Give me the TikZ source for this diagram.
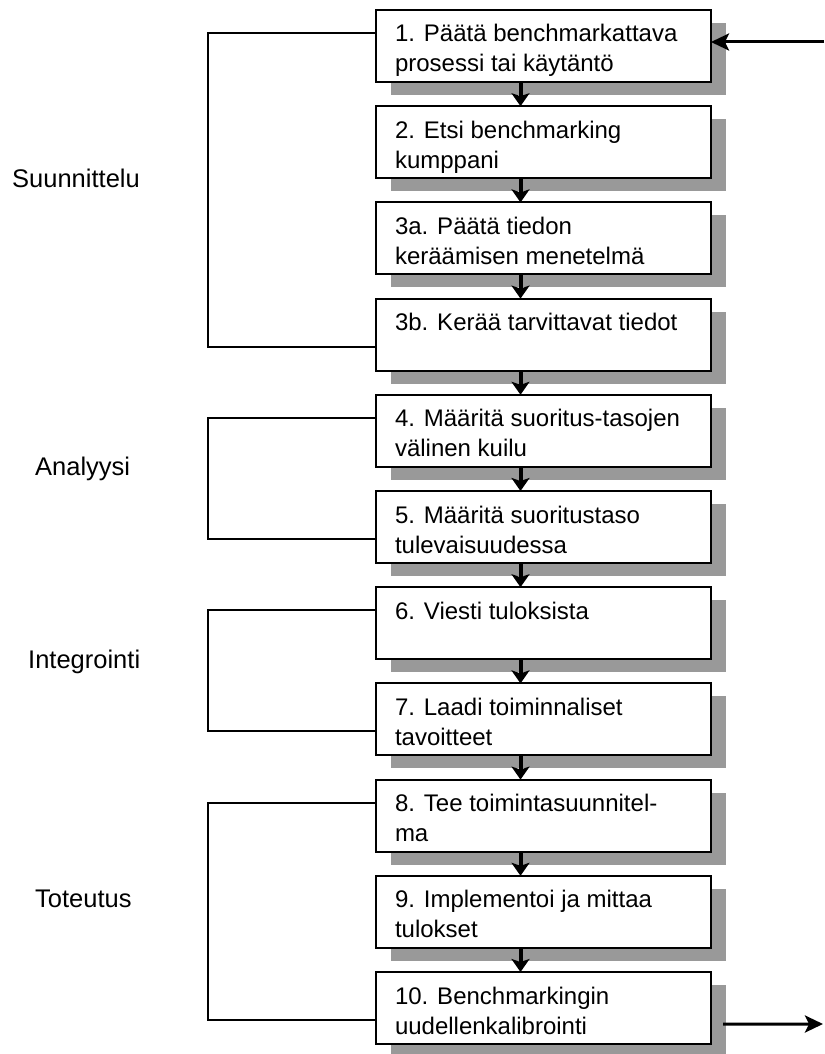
\documentclass[tikz,border=0pt]{standalone}
\usepackage{fontspec}
\setmainfont{Liberation Sans}
\usetikzlibrary{arrows.meta,positioning,shadows}

\begin{document}
\begin{tikzpicture}[x=1pt,y=-1pt,node distance=24.2pt,
  b/.style={draw,line width=2pt,fill=white,outer sep=0pt,inner sep=0pt,
    minimum width=335pt,minimum height=72pt,
    drop shadow={shadow xshift=15pt,shadow yshift=-13pt,fill=black!40,opacity=1},
    font=\fontsize{24}{30}\selectfont,
    execute at begin node={\begin{minipage}[t][50pt][t]{297pt}\strut},
    execute at end node={\end{minipage}}},
  f/.style={line width=4pt,-{Stealth[length=13pt,width=18pt,inset=3pt]}},
  g/.style={line width=3pt,-{Stealth[length=18pt,width=17pt,inset=4pt]}},
  k/.style={line width=2pt},
  l/.style={anchor=base west,inner sep=0pt,font=\fontsize{25.5}{30}\selectfont}]
\useasboundingbox (0,0) rectangle (824,1054);
% vaiheet
\node[b] (b1) at (543.5,46) {1. Päätä benchmarkattava\\prosessi tai käytäntö};
\node[b,below=of b1] (b2) {2. Etsi benchmarking\\kumppani};
\node[b,below=of b2] (b3a) {3a. Päätä tiedon\\keräämisen menetelmä};
\node[b,below=of b3a] (b3b) {3b. Kerää tarvittavat tiedot};
\node[b,below=of b3b] (b4) {4. Määritä suoritus-tasojen\\välinen kuilu};
\node[b,below=of b4] (b5) {5. Määritä suoritustaso\\tulevaisuudessa};
\node[b,below=of b5] (b6) {6. Viesti tuloksista};
\node[b,below=of b6] (b7) {7. Laadi toiminnaliset\\tavoitteet};
\node[b,below=of b7] (b8) {8. Tee toimintasuunnitel-\\ma};
\node[b,below=of b8] (b9) {9. Implementoi ja mittaa\\tulokset};
\node[b,below=of b9] (b10) {10. Benchmarkingin\\uudellenkalibrointi};
% nuolet
\draw[f] ([xshift=-23pt]b1.south)--([xshift=-23pt]b2.north);
\draw[f] ([xshift=-23pt]b2.south)--([xshift=-23pt]b3a.north);
\draw[f] ([xshift=-23pt]b3a.south)--([xshift=-23pt]b3b.north);
\draw[f] ([xshift=-23pt]b3b.south)--([xshift=-23pt]b4.north);
\draw[f] ([xshift=-23pt]b4.south)--([xshift=-23pt]b5.north);
\draw[f] ([xshift=-23pt]b5.south)--([xshift=-23pt]b6.north);
\draw[f] ([xshift=-23pt]b6.south)--([xshift=-23pt]b7.north);
\draw[f] ([xshift=-23pt]b7.south)--([xshift=-23pt]b8.north);
\draw[f] ([xshift=-23pt]b8.south)--([xshift=-23pt]b9.north);
\draw[f] ([xshift=-23pt]b9.south)--([xshift=-23pt]b10.north);
\coordinate (in) at (824,42);
\coordinate (out) at (823,1024);
\draw[g] (in)--([yshift=4pt]b1.east);
\draw[g] ([xshift=12pt,yshift=-16pt]b10.east)--(out);
% vaiheiden ryhmät
\draw[k] ([yshift=13pt]b1.west) -| ([xshift=-168pt,yshift=-12pt]b3b.west) -- ([yshift=-12pt]b3b.west);
\draw[k] ([yshift=13pt]b4.west) -| ([xshift=-168pt,yshift=-12pt]b5.west) -- ([yshift=-12pt]b5.west);
\draw[k] ([yshift=13pt]b6.west) -| ([xshift=-168pt,yshift=-12pt]b7.west) -- ([yshift=-12pt]b7.west);
\draw[k] ([yshift=13pt]b8.west) -| ([xshift=-168pt,yshift=-12pt]b10.west) -- ([yshift=-12pt]b10.west);
\node[l] (su) at (12,187) {Suunnittelu};
\node[l] (an) at (35,475) {Analyysi};
\node[l] (ig) at (28,668) {Integrointi};
\node[l] (to) at (35,907) {Toteutus};
\end{tikzpicture}
\end{document}
